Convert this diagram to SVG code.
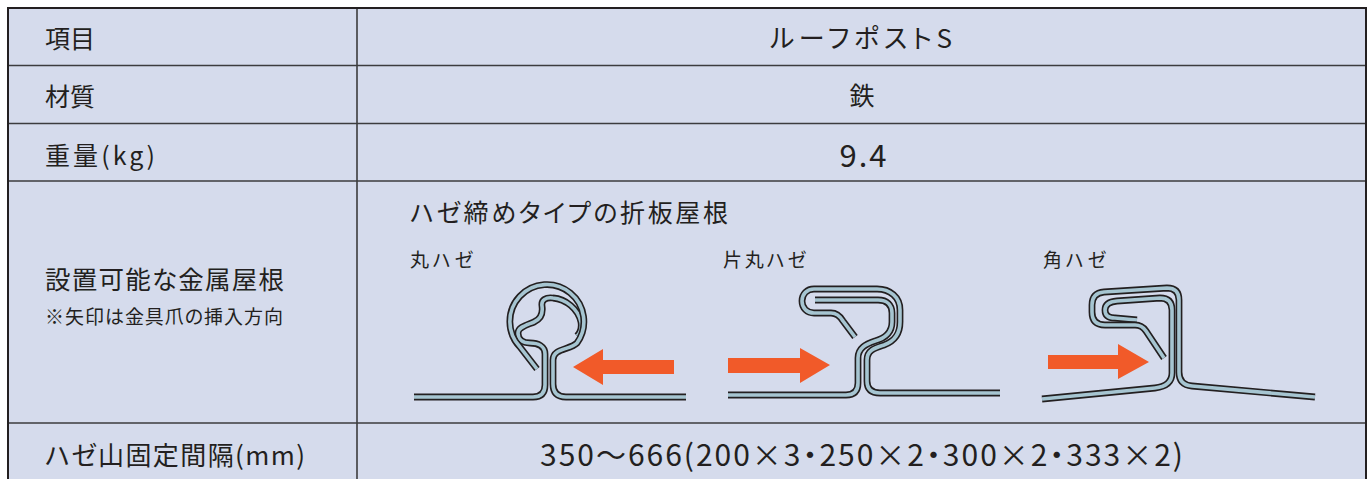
<svg xmlns="http://www.w3.org/2000/svg" width="1372" height="479" viewBox="0 0 1372 479">
<style>
.t{font-family:"Noto Sans CJK JP","Noto Sans",sans-serif;fill:#231f20;font-feature-settings:"palt" 1}
.grid{stroke:#3c3c3e;stroke-width:1.6;fill:none}
.sd{fill:none;stroke:#231f20;stroke-width:6.8;stroke-linejoin:round}
.sl{fill:none;stroke:#a6c5d1;stroke-width:3.6;stroke-linejoin:round}
.arr{fill:#f15a29}
</style>
<defs>
<path id="p1a" d="M414,397 H533 Q545,397 545,385 V354 C545,346 538,343 530,343 C522,343 518,339 518,333 C518,327 527,325 534,322 C541,319 543,313 542,306 C541,300 546,297 553,298 C566,299 578,309 581,322 C582,328 580,333 577,336"/>
<path id="p1b" d="M686,397 H566 Q553,397 553,384 V360 C553,348 570,350 577,343 A37,37 0 1 0 520,347 L537,369"/>
<path id="p2a" d="M728,395 H846 Q858,395 858,383 V358 C858,348 866,344 875,341 C886,338 892,332 892,322 V313 C892,305 887,300 878,300 H815"/>
<path id="p2b" d="M1000,393 H880 Q867,393 867,381 V360 C867,350 875,348 884,345 C895,341 900,334 900,322 V310 C900,297 890,289 877,289 H814 C807,289 802,294 802,301 C802,308 807,313 814,313 H831 C837,313 840,316 843,321 L855,337"/>
<path id="p3a" d="M1042,399 L1155,388 Q1172,386 1172,373 V310 Q1172,298 1160,298 L1117,301 Q1105,302 1105,310 Q1105,318 1115,318 L1137,320"/>
<path id="p3b" d="M1315,397 L1192,386 Q1179,385 1179,372 V300 Q1179,288 1167,288 L1104,292 Q1092,293 1092,305 V312 Q1092,325 1105,325 L1135,325 Q1142,325 1146,331 L1164,358"/>
</defs>
<rect width="1372" height="479" fill="#ffffff"/>
<g id="table">
<rect x="8" y="8" width="1358" height="480" fill="#d5dbec"/>
<path class="grid" d="M8,65.5 H1366 M8,123.5 H1366 M8,181 H1366 M8,423 H1366 M357,8 V479"/>
<path d="M8,479 V8 H1366 V479" fill="none" stroke="#231f20" stroke-width="2"/>
</g>
<g id="row-item">
<text class="t" x="45" y="48" font-size="25">項目</text>
<text class="t" x="861" y="47.5" font-size="26" text-anchor="middle" textLength="182" lengthAdjust="spacing">ルーフポストS</text>
</g>
<g id="row-material">
<text class="t" x="45" y="106" font-size="25">材質</text>
<text class="t" x="862" y="105" font-size="25" text-anchor="middle">鉄</text>
</g>
<g id="row-weight">
<text class="t" x="45" y="165" font-size="25" textLength="110" lengthAdjust="spacing">重量(kg)</text>
<text class="t" x="863" y="167" font-size="31" text-anchor="middle" textLength="47" lengthAdjust="spacing">9.4</text>
</g>
<g id="row-roof">
<text class="t" x="45" y="289" font-size="25.5" textLength="239" lengthAdjust="spacing">設置可能な金属屋根</text>
<text class="t" x="45" y="323.5" font-size="19" textLength="238" lengthAdjust="spacing">※矢印は金具爪の挿入方向</text>
<text class="t" x="410" y="222" font-size="25" textLength="318" lengthAdjust="spacing">ハゼ締めタイプの折板屋根</text>
</g>
<g id="profile-maru">
<text class="t" x="410" y="267" font-size="19" textLength="63" lengthAdjust="spacing">丸ハゼ</text>
<use href="#p1a" class="sd"/><use href="#p1a" class="sl"/>
<use href="#p1b" class="sd"/><use href="#p1b" class="sl"/>
</g>
<g id="profile-katamaru">
<text class="t" x="723" y="267" font-size="19" textLength="83" lengthAdjust="spacing">片丸ハゼ</text>
<use href="#p2a" class="sd"/><use href="#p2a" class="sl"/>
<use href="#p2b" class="sd"/><use href="#p2b" class="sl"/>
</g>
<g id="profile-kaku">
<text class="t" x="1043" y="267" font-size="19" textLength="63" lengthAdjust="spacing">角ハゼ</text>
<use href="#p3a" class="sd"/><use href="#p3a" class="sl"/>
<use href="#p3b" class="sd"/><use href="#p3b" class="sl"/>
</g>
<g id="connectors">
<polygon class="arr" points="674,360 603,360 603,349 573,367 603,385 603,374 674,374"/>
<polygon class="arr" points="728,358 800,358 800,348 830,365 800,383 800,373 728,373"/>
<polygon class="arr" points="1048,355 1118,355 1118,344 1149,362 1118,379 1118,369 1048,369"/>
</g>
<g id="row-interval">
<text class="t" x="45" y="465" font-size="26" textLength="260" lengthAdjust="spacing">ハゼ山固定間隔(mm)</text>
<text class="t" x="861.5" y="466" font-size="30" text-anchor="middle" textLength="643" lengthAdjust="spacing">350〜666(200×3・250×2・300×2・333×2)</text>
</g>
</svg>
